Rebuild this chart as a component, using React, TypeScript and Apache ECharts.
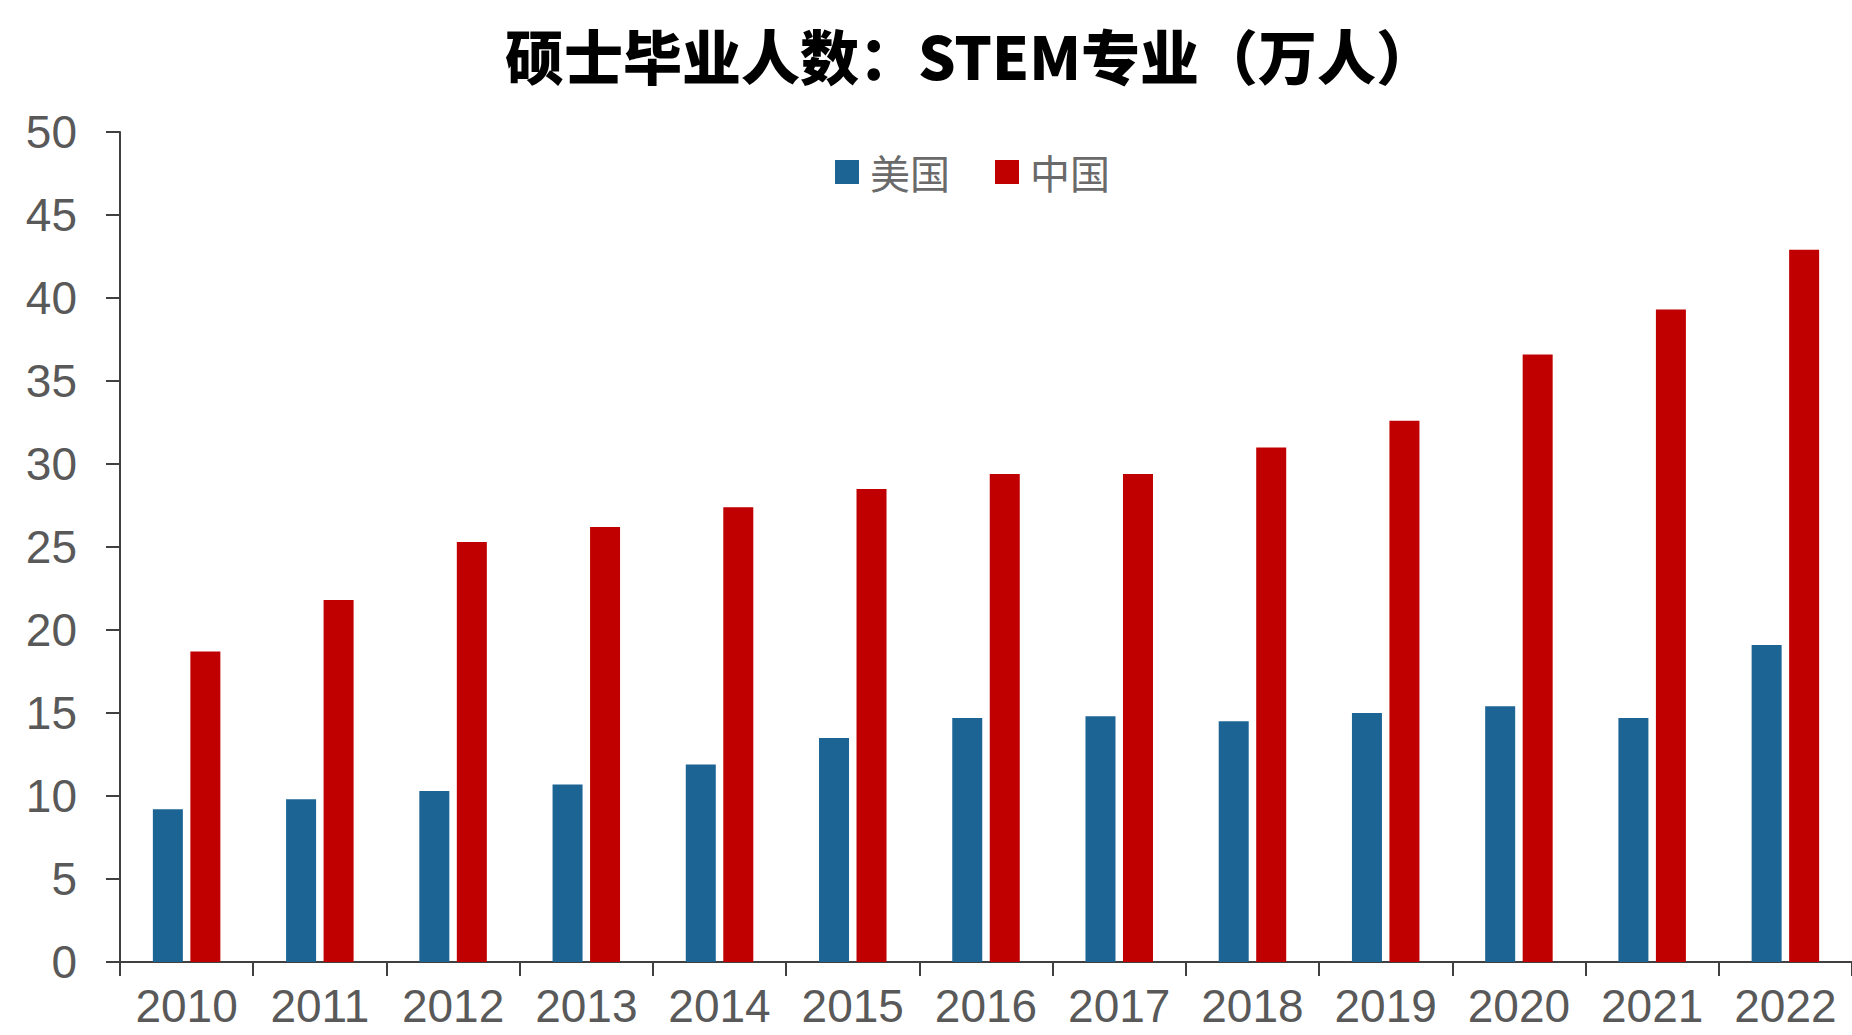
import React, { useEffect, useRef } from "react";
import * as echarts from "echarts";

const years = ["2010", "2011", "2012", "2013", "2014", "2015", "2016", "2017", "2018", "2019", "2020", "2021", "2022"];
const usValues = [9.2, 9.8, 10.3, 10.7, 11.9, 13.5, 14.7, 14.8, 14.5, 15.0, 15.4, 14.7, 19.1];
const cnValues = [18.7, 21.8, 25.3, 26.2, 27.4, 28.5, 29.4, 29.4, 31.0, 32.6, 36.6, 39.3, 42.9];
const seriesNames = ["美国", "中国"];
const titleText = "硕士毕业人数：STEM专业（万人）";

export default function App() {
  const ref = useRef<HTMLDivElement>(null);
  useEffect(() => {
    if (!ref.current) return;
    const chart = echarts.init(ref.current, null, { renderer: "svg" });
    const labelColor = "#595959";
    const axisColor = "#404040";
    chart.setOption({
      animation: false,
      backgroundColor: "#ffffff",
      title: {
        text: titleText,
        left: 500,
        top: 20,
        textStyle: {
          fontFamily: "Noto Sans CJK SC",
          fontWeight: 900,
          fontSize: 59,
          color: "#000000",
        },
      },
      legend: {
        data: seriesNames,
        left: 830,
        top: 147,
        itemWidth: 24,
        itemHeight: 24,
        itemGap: 45,
        icon: "rect",
        textStyle: {
          fontFamily: "Noto Sans CJK SC",
          fontSize: 40,
          color: "#6a6a6a",
          padding: [0, 0, 0, 6],
        },
      },
      grid: {
        left: 120,
        right: -5,
        top: 132,
        bottom: 73,
        containLabel: false,
      },
      xAxis: {
        type: "category",
        data: years,
        boundaryGap: true,
        axisLine: { show: true, lineStyle: { color: axisColor, width: 2 } },
        axisTick: { show: true, length: 14, alignWithLabel: false, lineStyle: { color: axisColor, width: 2 } },
        axisLabel: {
          margin: 21,
          fontFamily: "Liberation Sans, Arial, sans-serif",
          fontSize: 46,
          lineHeight: 46,
          color: labelColor,
          interval: 0,
        },
      },
      yAxis: {
        type: "value",
        min: 0,
        max: 50,
        interval: 5,
        splitLine: { show: false },
        axisLine: { show: true, lineStyle: { color: axisColor, width: 2 } },
        axisTick: { show: true, length: 14, lineStyle: { color: axisColor, width: 2 } },
        axisLabel: {
          margin: 43,
          fontFamily: "Liberation Sans, Arial, sans-serif",
          fontSize: 46,
          color: labelColor,
        },
      },
      series: [
        {
          name: seriesNames[0],
          type: "bar",
          data: usValues,
          barWidth: 30,
          barGap: "25%",
          itemStyle: { color: "#1B6494" },
        },
        {
          name: seriesNames[1],
          type: "bar",
          data: cnValues,
          barWidth: 30,
          barGap: "25%",
          itemStyle: { color: "#C00000" },
        },
      ],
    });
    return () => chart.dispose();
  }, []);
  return (
    <div
      ref={ref}
      style={{ position: "absolute", left: 0, top: 0, width: 1852, height: 1035 }}
    />
  );
}
